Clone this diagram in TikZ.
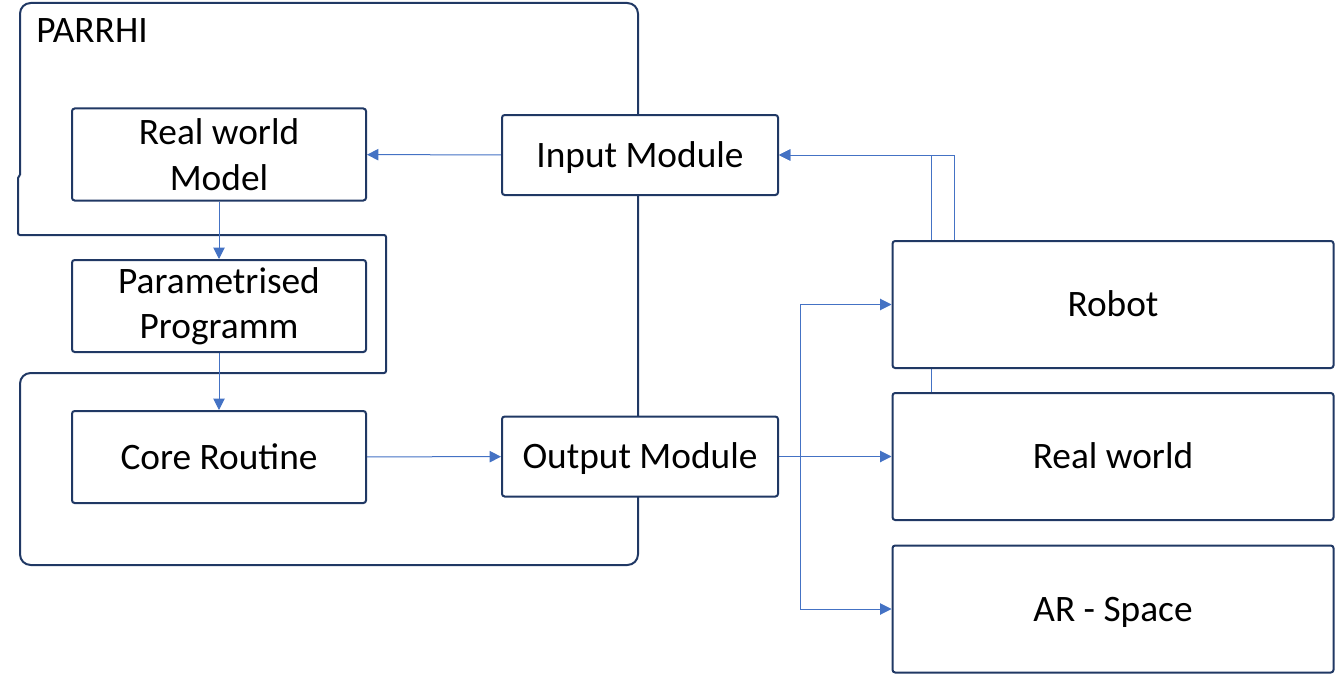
\documentclass[tikz,border=0pt]{standalone}
\usepackage{fontspec}
\setmainfont{Carlito}
\usetikzlibrary{arrows.meta, backgrounds}
\definecolor{boxline}{HTML}{203864}
\definecolor{arrowline}{HTML}{4472C4}
\begin{document}
\begin{tikzpicture}[
  block/.style = {rectangle, draw = boxline, line width = 1.5pt, rounded corners = 2pt, fill = white, align = center, inner sep = 0pt, font = \fontsize{28}{34}\selectfont},
  oneline/.style = {text height = 18pt, text depth = 0pt},
  stepblock/.style = {block, minimum width = 220.5pt, minimum height = 69pt},
  moduleblock/.style = {block, oneline, minimum width = 207pt, minimum height = 60pt},
  worldblock/.style = {block, oneline, minimum width = 330.75pt, minimum height = 95.25pt},
  link/.style = {draw = arrowline, line width = 0.75pt, -{Triangle[length = 8.5pt, width = 8.5pt]}},
  outline/.style = {draw = boxline, line width = 1.5pt},
  x = 0.75pt,
  y = -0.75pt
]
  \useasboundingbox (0, 0) rectangle (1335, 674);

  \node[anchor = north west, inner sep = 0pt, font = \fontsize{28}{34}\selectfont] (title) at (36, 18) {PARRHI};

  \node[stepblock]         (rwm)   at (219, 154.5) {Real world\\Model};
  \node[stepblock]         (pp)    at (219, 306)   {Parametrised\\Programm};
  \node[stepblock, oneline] (cr)   at (219, 457)   {Core Routine};
  \node[moduleblock]       (im)    at (640, 155)   {Input Module};
  \node[moduleblock]       (om)    at (640, 456.5) {Output Module};
  \node[worldblock]        (robot) at (1113, 304.5) {Robot};
  \node[worldblock]        (rw)    at (1113, 456.5) {Real world};
  \node[worldblock]        (ar)    at (1113, 609)   {AR - Space};
  \coordinate (split) at (800, 456.5);

  \begin{scope}[on background layer]
    % PARRHI frame
    \draw[outline] (20, 175) [rounded corners = 8pt] -- (20, 3) -- (638, 3) -- (638, 565) -- (20, 565) -- (20, 373)
      [rounded corners = 1.5pt] -- (386, 373) -- (386, 235) -- (18, 235) -- (18, 176) -- (20, 175);

    \draw[link] (im) -- (rwm);
    \draw[link] (rwm) -- (pp);
    \draw[link] (pp) -- (cr);
    \draw[link] (cr) -- (om);
    \draw[link] (om) -- (rw);
    \draw[link] (om.east) -- (split) |- (robot.west);
    \draw[link] (split) |- (ar.west);
    \draw[link] ([xshift = 47.25pt]robot.north west) |- (im.east);
    \draw[link] ([xshift = 30pt]rw.north west) |- (im.east);
  \end{scope}
\end{tikzpicture}
\end{document}
